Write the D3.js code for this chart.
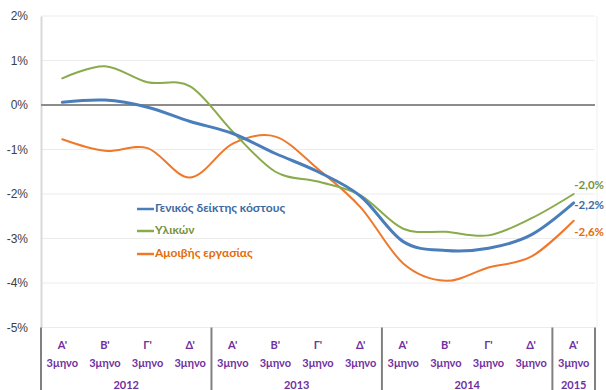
<!DOCTYPE html>
<html>
<head>
<meta charset="utf-8">
<script src="https://cdn.jsdelivr.net/npm/d3@7/dist/d3.min.js"></script>
<style>
  html, body { margin: 0; padding: 0; background: #fff; }
  svg { display: block; font-family: Lato, "Liberation Sans", sans-serif; }
</style>
</head>
<body>
<svg id="chart" width="606" height="390"></svg>
<script>
// Quarterly annual change (%) of the construction cost indices
const years = ["2012", "2013", "2014", "2015"];
const quarters = ["Α'", "Β'", "Γ'", "Δ'", "Α'", "Β'", "Γ'", "Δ'", "Α'", "Β'", "Γ'", "Δ'", "Α'"];
const quarterYear = [0, 0, 0, 0, 1, 1, 1, 1, 2, 2, 2, 2, 3];
const general = [0.06, 0.11, -0.05, -0.37, -0.64, -1.09, -1.5, -2.05, -3.07, -3.27, -3.22, -2.92, -2.2];
const materials = [0.60, 0.87, 0.51, 0.42, -0.6, -1.5, -1.72, -2.03, -2.78, -2.85, -2.93, -2.55, -2.0];
const labour = [-0.77, -1.03, -0.97, -1.63, -0.87, -0.71, -1.44, -2.3, -3.56, -3.95, -3.65, -3.41, -2.6];
const yTicks = [2, 1, 0, -1, -2, -3, -4, -5];

const series = [
  { name: "Γενικός δείκτης κόστους", values: general, color: "#4a7ebb", text: "#3d6aa3", width: 3, label: "-2,2%" },
  { name: "Υλικών", values: materials, color: "#8aab4c", text: "#77933c", width: 2, label: "-2,0%" },
  { name: "Αμοιβής εργασίας", values: labour, color: "#f0782a", text: "#e46c0a", width: 2, label: "-2,6%" }
];

const svg = d3.select("#chart");
const plotLeft = 41, plotRight = 595, plotTop = 16, plotBottom = 327.5;

const x = d3.scaleBand().domain(d3.range(quarters.length)).range([plotLeft, plotRight]).paddingInner(0).paddingOuter(0);
const y = d3.scaleLinear().domain([-5, 2]).range([plotBottom, plotTop]);

// horizontal gridlines
svg.append("g").selectAll("line").data(yTicks.filter(d => d !== 0)).join("line")
  .attr("x1", plotLeft).attr("x2", plotRight)
  .attr("y1", d => y(d)).attr("y2", d => y(d))
  .attr("stroke", "#ececec").attr("stroke-width", 1);

// right plot border
svg.append("line").attr("x1", plotRight + 2).attr("x2", plotRight + 2).attr("y1", plotTop).attr("y2", plotBottom)
  .attr("stroke", "#f0f0f0").attr("stroke-width", 1);

// y axis
const yAxis = d3.axisLeft(y).tickValues(yTicks).tickSize(0).tickPadding(13).tickFormat(d => d + "%");
const gy = svg.append("g").attr("transform", `translate(${plotLeft},0)`).call(yAxis);
gy.select(".domain").attr("stroke", "#d9d9d9").attr("stroke-width", 2);
gy.selectAll("text").attr("fill", "#404040").attr("font-size", 12)
  .attr("font-family", "'Liberation Sans', sans-serif");

// zero line
svg.append("line").attr("x1", plotLeft).attr("x2", plotRight).attr("y1", y(0)).attr("y2", y(0))
  .attr("stroke", "#8c8c8c").attr("stroke-width", 2);

// category axis: quarter labels and year groups
const catG = svg.append("g").attr("fill", "#7030a0").attr("font-weight", "bold").attr("font-size", 11)
  .attr("text-anchor", "middle");
catG.selectAll("text.q").data(quarters).join("text").attr("class", "q")
  .attr("x", (d, i) => x(i) + x.bandwidth() / 2).attr("y", 349).text(d => d);
catG.selectAll("text.m").data(quarters).join("text").attr("class", "m")
  .attr("x", (d, i) => x(i) + x.bandwidth() / 2).attr("y", 367).text("3μηνο");

const groups = years.map((yr, k) => {
  const idx = quarterYear.map((v, i) => v === k ? i : -1).filter(i => i >= 0);
  return { yr, start: x(idx[0]), end: x(idx[idx.length - 1]) + x.bandwidth() };
});
catG.selectAll("text.y").data(groups).join("text").attr("class", "y")
  .attr("x", d => (d.start + d.end) / 2).attr("y", 389).text(d => d.yr);

const seps = [groups[0].start, ...groups.map(g => g.end)];
svg.append("g").selectAll("line").data(seps).join("line")
  .attr("x1", d => d).attr("x2", d => d).attr("y1", plotBottom).attr("y2", 390)
  .attr("stroke", "#808080").attr("stroke-width", 2);

// series lines
const line = d3.line()
  .x((d, i) => x(i) + x.bandwidth() / 2)
  .y(d => y(d))
  .curve(d3.curveCardinal.tension(0));

const drawOrder = [series[2], series[1], series[0]];
svg.append("g").selectAll("path").data(drawOrder).join("path")
  .attr("d", d => line(d.values))
  .attr("fill", "none")
  .attr("stroke", d => d.color)
  .attr("stroke-width", d => d.width)
  .attr("stroke-linecap", "round");

// end labels, kept inside the right edge
const last = quarters.length - 1;
const labelOffsets = { "-2,0%": -8, "-2,2%": 3, "-2,6%": 12 };
svg.append("g").selectAll("text").data(series).join("text")
  .attr("x", 604)
  .attr("text-anchor", "end")
  .attr("y", d => y(d.values[last]) + labelOffsets[d.label])
  .attr("dominant-baseline", "middle")
  .attr("fill", d => d.text).attr("font-weight", "bold").attr("font-size", 11.5)
  .text(d => d.label);

// legend
const legend = svg.append("g").attr("transform", "translate(137,209)");
const items = legend.selectAll("g").data(series).join("g")
  .attr("transform", (d, i) => `translate(0,${[0, 22, 45][i]})`);
items.append("line").attr("x1", 0).attr("x2", 17).attr("y1", 0).attr("y2", 0)
  .attr("stroke", d => d.color).attr("stroke-width", 2.5);
items.append("text").attr("x", 18).attr("y", 0).attr("dominant-baseline", "middle")
  .attr("fill", d => d.text).attr("font-weight", "bold").attr("font-size", 12)
  .text(d => d.name);
</script>
</body>
</html>
